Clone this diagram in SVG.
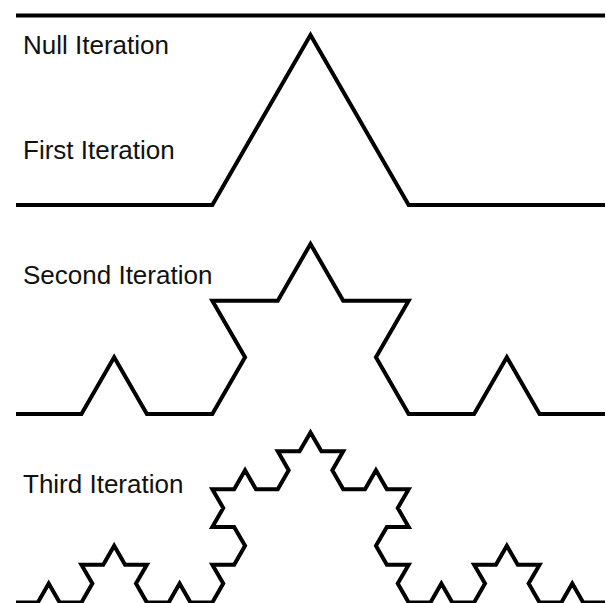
<svg xmlns="http://www.w3.org/2000/svg" width="606" height="603" viewBox="0 0 606 603">
<style>
.curve{fill:none;stroke:#000;stroke-width:4;stroke-linejoin:miter;stroke-linecap:butt}
.lbl{font-family:"Liberation Sans",Arial,sans-serif;font-size:26px;fill:#111}
</style>
<rect width="606" height="603" fill="#fff"/>
<g id="labels">
<text class="lbl" x="23" y="54">Null Iteration</text>
<text class="lbl" x="23" y="159">First Iteration</text>
<text class="lbl" x="23" y="284">Second Iteration</text>
<text class="lbl" x="23" y="493">Third Iteration</text>
</g>
<g id="null-iteration"><path class="curve" d="M16 15.5H605"/></g>
<g id="first-iteration"><path class="curve" d="M16 205h196.333l98.167-170.03l98.167 170.03h196.333"/></g>
<g id="second-iteration"><path class="curve" d="M16 414h65.444l32.722-56.676l32.722 56.676h65.444l32.722-56.676l-32.722-56.676h65.444l32.722-56.676l32.722 56.676h65.444l-32.722 56.676l32.722 56.676h65.444l32.722-56.676l32.722 56.676h65.444"/></g>
<g id="third-iteration"><path class="curve" d="M16 602.5
h21.8148 l10.9074-18.8922 l10.9074 18.8922 h21.8148
l10.9074-18.8922 l-10.9074-18.8922 h21.8148 l10.9074-18.8922
l10.9074 18.8922 h21.8148 l-10.9074 18.8922 l10.9074 18.8922
h21.8148 l10.9074-18.8922 l10.9074 18.8922 h21.8148
l10.9074-18.8922 l-10.9074-18.8922 h21.8148 l10.9074-18.8922
l-10.9074-18.8922 h-21.8148 l10.9074-18.8922 l-10.9074-18.8922
h21.8148 l10.9074-18.8922 l10.9074 18.8922 h21.8148
l10.9074-18.8922 l-10.9074-18.8922 h21.8148 l10.9074-18.8922
l10.9074 18.8922 h21.8148 l-10.9074 18.8922 l10.9074 18.8922
h21.8148 l10.9074-18.8922 l10.9074 18.8922 h21.8148
l-10.9074 18.8922 l10.9074 18.8922 h-21.8148 l-10.9074 18.8922
l10.9074 18.8922 h21.8148 l-10.9074 18.8922 l10.9074 18.8922
h21.8148 l10.9074-18.8922 l10.9074 18.8922 h21.8148
l10.9074-18.8922 l-10.9074-18.8922 h21.8148 l10.9074-18.8922
l10.9074 18.8922 h21.8148 l-10.9074 18.8922 l10.9074 18.8922
h21.8148 l10.9074-18.8922 l10.9074 18.8922 h21.8148"/></g>
</svg>
